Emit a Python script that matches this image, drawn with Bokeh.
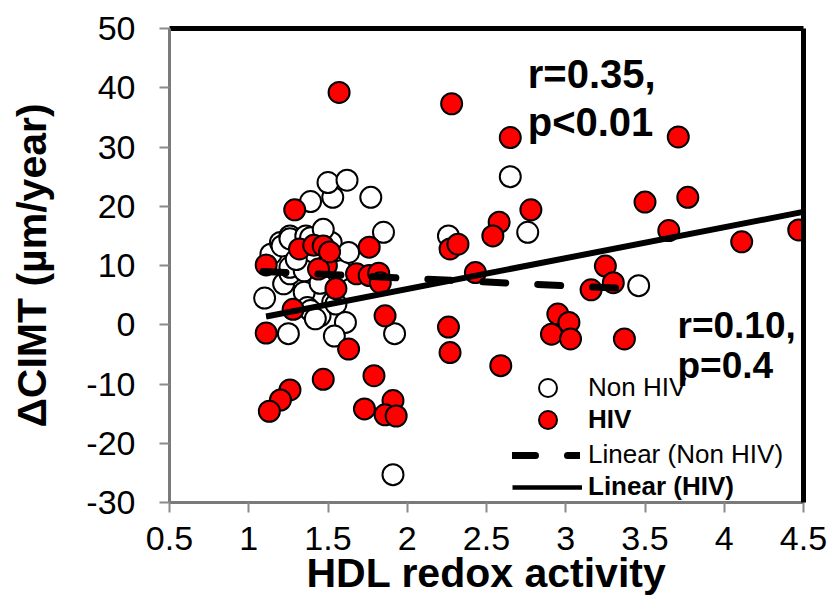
from bokeh.plotting import figure
from bokeh.models import Range1d, FixedTicker, LinearAxis, Legend, LegendItem, Label
from bokeh.embed import file_html
from bokeh.resources import INLINE

# ---- data ----
non_hiv_x = [1.10, 1.14, 1.20, 1.21, 1.26, 1.26, 1.36, 1.39, 1.49, 1.52,
             1.22, 1.26, 1.26, 1.35, 1.58, 1.63, 1.47, 1.85, 1.39, 1.53,
             1.50, 1.62, 1.77, 1.43, 1.35, 1.53, 1.37, 1.39, 1.45, 1.42,
             1.55, 1.61, 1.54, 1.25, 1.92, 1.91, 2.26, 2.65, 2.76, 3.46,
             1.30, 1.45]
non_hiv_y = [4.5, 11.9, 13.9, 13.3, 15.0, 14.5, 15.0, 14.7, 14.2, 13.9,
             6.9, 8.6, 9.7, 9.1, 9.1, 12.2, 16.1, 15.6, 20.8, 21.5,
             24.0, 24.4, 21.5, 4.9, 5.5, 3.8, 2.9, 2.4, 1.5, 1.0,
             3.5, 0.4, -1.9, -1.5, -1.5, -25.3, 15.0, 25.0, 15.6, 6.6,
             11.0, 7.0]

hiv_x = [1.57, 2.28, 2.65, 3.71, 1.29, 1.32, 1.41, 1.47, 1.76, 1.11,
         1.49, 1.44, 1.68, 1.76, 1.82, 1.83, 1.55, 1.28, 1.11, 1.63,
         1.86, 1.47, 1.79, 1.26, 1.20, 1.13, 1.73, 1.91, 1.86, 1.93,
         2.78, 2.58, 2.54, 2.27, 2.32, 2.43, 3.25, 3.30, 3.16, 2.26,
         2.27, 2.59, 2.95, 3.02, 2.91, 3.03, 3.37, 3.50, 3.77, 3.65,
         4.11, 4.47, 1.51]
hiv_y = [39.2, 37.3, 31.6, 31.7, 19.4, 12.8, 13.4, 13.3, 13.1, 10.1,
         10.0, 9.4, 8.6, 8.3, 8.7, 7.1, 6.1, 2.6, -1.4, -4.1,
         1.5, -9.2, -8.6, -11.0, -12.7, -14.6, -14.2, -12.8, -15.2, -15.4,
         19.4, 17.3, 15.0, 12.8, 13.6, 8.8, 9.9, 7.1, 5.9, -0.4,
         -4.7, -6.9, 1.8, 0.4, -1.6, -2.4, -2.4, 20.7, 21.5, 15.9,
         14.0, 16.0, 12.3]

trend_non_hiv_x = [1.09, 3.46]
trend_non_hiv_y = [9.0, 6.0]
trend_hiv_x = [1.11, 4.49]
trend_hiv_y = [1.4, 19.0]

x_ticks = [0.5, 1, 1.5, 2, 2.5, 3, 3.5, 4, 4.5]
x_tick_labels = ["0.5", "1", "1.5", "2", "2.5", "3", "3.5", "4", "4.5"]
y_ticks = [-30, -20, -10, 0, 10, 20, 30, 40, 50]
y_tick_labels = ["-30", "-20", "-10", "0", "10", "20", "30", "40", "50"]

FONT = "Liberation Sans"

p = figure(width=828, height=601, x_range=Range1d(0.5, 4.5), y_range=Range1d(-30, 50),
           output_backend="svg", toolbar_location=None,
           min_border_left=169, min_border_right=25, min_border_top=28, min_border_bottom=99,
           x_axis_label="HDL redox activity", y_axis_label="ΔCIMT (µm/year)")
p.xgrid.visible = False
p.ygrid.visible = False
p.outline_line_color = None
p.background_fill_color = "white"
p.border_fill_color = "white"

p.xaxis.ticker = FixedTicker(ticks=x_ticks)
p.xaxis.major_label_overrides = {t: l for t, l in zip(x_ticks, x_tick_labels)}
p.yaxis.ticker = FixedTicker(ticks=y_ticks)
p.yaxis.major_label_overrides = {t: l for t, l in zip(y_ticks, y_tick_labels)}

for ax in (p.xaxis[0], p.yaxis[0]):
    ax.axis_line_color = "#7a7a7a"
    ax.axis_line_width = 3
    ax.major_tick_line_color = "#8a8a8a"
    ax.major_tick_line_width = 2
    ax.major_tick_out = 10
    ax.major_tick_in = 0
    ax.minor_tick_line_color = None
    ax.major_label_text_font = FONT
    ax.major_label_text_font_size = "34px"
    ax.major_label_text_color = "black"
    ax.axis_label_text_font = FONT
    ax.axis_label_text_font_size = "41px"
    ax.axis_label_text_font_style = "bold"
    ax.axis_label_text_color = "black"

p.xaxis.major_label_standoff = 14
p.xaxis.axis_label_standoff = -3
p.yaxis.major_label_standoff = 24
p.yaxis.axis_label_standoff = 28

# thick black frame on top and right
for side in ("above", "right"):
    ax = LinearAxis(ticker=FixedTicker(ticks=[]), axis_line_color="black", axis_line_width=5,
                    major_tick_line_color=None, minor_tick_line_color=None,
                    major_tick_out=0, major_tick_in=0, major_label_standoff=0,
                    major_label_text_font_size="0px")
    p.add_layout(ax, side)

r_non = p.scatter(non_hiv_x, non_hiv_y, size=21, fill_color="white", line_color="black", line_width=2)
r_hiv = p.scatter(hiv_x, hiv_y, size=21, fill_color="#ff0000", line_color="black", line_width=2)
r_tn = p.line(trend_non_hiv_x, trend_non_hiv_y, line_width=7, line_color="black",
              line_dash="23 32", line_cap="round")
# thinner copy of the HIV trend (hidden under the main one) used for the legend swatch
r_th_leg = p.line(trend_hiv_x, trend_hiv_y, line_width=4.5, line_color="black")
r_th = p.line(trend_hiv_x, trend_hiv_y, line_width=6, line_color="black")

for txt, x, y, fs in [("r=0.35,", 2.76, 42.4, "40px"), ("p<0.01", 2.76, 34.3, "40px"),
                      ("r=0.10,", 3.705, -0.2, "37px"), ("p=0.4", 3.705, -6.9, "37px")]:
    p.add_layout(Label(x=x, y=y, text=txt, text_font=FONT, text_font_size=fs,
                       text_font_style="bold", text_color="black", text_baseline="alphabetic"))


def add_legend(label, renderer, x, y, w, h, standoff, bold):
    lg = Legend(items=[LegendItem(label=label, renderers=[renderer])], location=(x, y),
                glyph_width=w, glyph_height=h, label_height=h, label_width=10, label_standoff=standoff,
                padding=0, margin=0, spacing=0, border_line_color=None,
                background_fill_alpha=0, label_text_font=FONT, label_text_font_size="26px",
                label_text_font_style="bold" if bold else "normal", label_text_color="black")
    p.add_layout(lg)


add_legend("Non HIV", r_non, 356, 92, 45, 45, 18, False)
add_legend("HIV", r_hiv, 356, 60, 45, 45, 18, True)
add_legend("Linear (Non HIV)", r_tn, 343, 32, 68, 30, 8, False)
add_legend("Linear (HIV)", r_th_leg, 343, 0, 70, 30, 6, True)

open("out.html", "w").write(file_html(p, INLINE))
